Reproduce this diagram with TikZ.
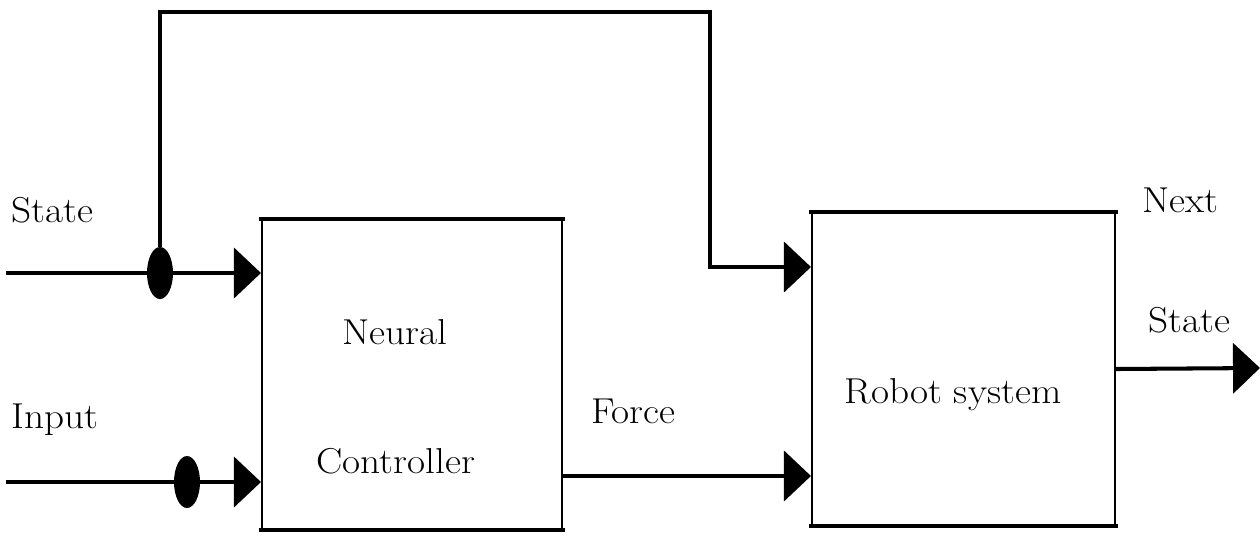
\documentclass[tikz,border=0pt]{standalone}
\usepackage{fontspec}
\setmainfont{Latin Modern Roman}[FakeStretch=1.09]
\usetikzlibrary{arrows.meta,shapes.geometric}
\begin{document}
\begin{tikzpicture}[x=0.02cm,y=-0.02cm,
  font=\fontsize{20.5}{24}\selectfont,
  sig/.style={line width=2.3pt},
  arr/.style={sig,-{Triangle[length=0.54cm,width=1.0cm]}},
  block/.style={draw,line width=1.2pt,rectangle,inner sep=0pt},
  edge/.style={line width=2.4pt,line cap=rect},
  tap/.style={ellipse,fill=black,inner sep=0pt,minimum width=0.52cm,minimum height=1.04cm},
  lbl/.style={anchor=base west,inner sep=0pt}]
\useasboundingbox (0,0) rectangle (1260,535);

% blocks
\node[block,minimum width=6cm,minimum height=6.18cm] (nc) at (412,374.5) {};
\node[block,minimum width=6.06cm,minimum height=6.24cm] (rs) at (963.5,369) {};
\foreach \b in {nc,rs}{
  \draw[edge] (\b.north west) -- (\b.north east);
  \draw[edge] (\b.south west) -- (\b.south east);
}

% branch points
\node[tap] (e1) at (160,273) {};
\node[tap] (e2) at (187,482) {};
\coordinate (sin) at (6,273);
\coordinate (iin) at (6,482);
\coordinate (top1) at (160,12);
\coordinate (top2) at (710,12);
\coordinate (out) at (1260,368);

% signals
\draw[sig] (sin) -- (e1);
\draw[arr] (e1) -- (e1 -| nc.west);
\draw[sig] (iin) -- (e2);
\draw[arr] (e2) -- (e2 -| nc.west);
\draw[arr] (e1.north) -- (top1) -- (top2) |- ([yshift=2.04cm]rs.west);
\draw[arr] ([yshift=-2.03cm]nc.east) -- ([yshift=-2.03cm]nc.east -| rs.west);
\draw[arr] (rs.east) -- (out);

% labels
\node[lbl] (tstate) at (11,222) {State};
\node[lbl] (tinput) at (11,428) {Input};
\node[lbl] (tneural) at (342,344) {Neural};
\node[lbl] (tctrl) at (316,473) {Controller};
\node[lbl] (tforce) at (591,423) {Force};
\node[lbl] (trobot) at (844,403) {Robot system};
\node[lbl] (tnext) at (1142,212) {Next};
\node[lbl] (tstate2) at (1148,332) {State};
\end{tikzpicture}
\end{document}
